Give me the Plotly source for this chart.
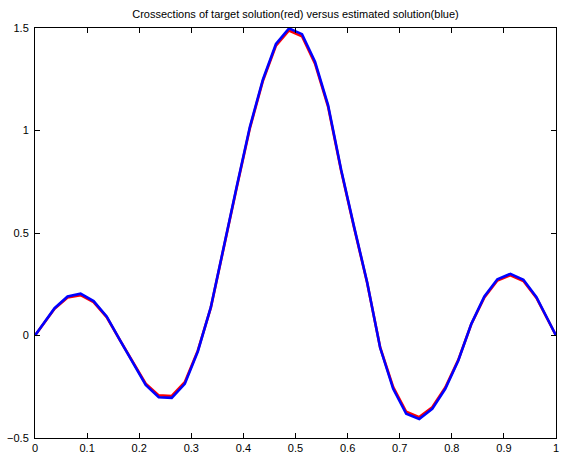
import plotly.graph_objects as go

# x sample positions
x_vals = [0.0, 0.0375, 0.0625, 0.0875, 0.1125, 0.1375, 0.1625, 0.1875, 0.2125, 0.2375,
          0.2625, 0.2875, 0.3125, 0.3375, 0.3625, 0.3875, 0.4125, 0.4375, 0.4625, 0.4875,
          0.5125, 0.5375, 0.5625, 0.5875, 0.6125, 0.6375, 0.6625, 0.6875, 0.7125, 0.7375,
          0.7625, 0.7875, 0.8125, 0.8375, 0.8625, 0.8875, 0.9125, 0.9375, 0.9625, 1.0]

# estimated solution (blue)
estimated = [0.0, 0.133, 0.190, 0.204, 0.168, 0.093, -0.020, -0.130, -0.241, -0.301,
             -0.304, -0.236, -0.078, 0.138, 0.440, 0.730, 1.018, 1.249, 1.422, 1.498,
             1.470, 1.335, 1.124, 0.810, 0.530, 0.260, -0.060, -0.260, -0.382, -0.407,
             -0.358, -0.260, -0.122, 0.057, 0.190, 0.274, 0.301, 0.272, 0.187, 0.0]

# target solution (red)
target = [0.0, 0.130, 0.185, 0.197, 0.163, 0.090, -0.020, -0.127, -0.235, -0.292,
          -0.295, -0.228, -0.074, 0.136, 0.436, 0.726, 1.012, 1.243, 1.414, 1.488,
          1.460, 1.326, 1.117, 0.805, 0.526, 0.257, -0.058, -0.252, -0.372, -0.398,
          -0.350, -0.254, -0.119, 0.056, 0.186, 0.268, 0.294, 0.266, 0.183, 0.0]

title_text = "Crossections of target solution(red) versus estimated solution(blue)"
x_ticks = [0, 0.1, 0.2, 0.3, 0.4, 0.5, 0.6, 0.7, 0.8, 0.9, 1]
x_tick_labels = ["0", "0.1", "0.2", "0.3", "0.4", "0.5", "0.6", "0.7", "0.8", "0.9", "1"]
y_ticks = [-0.5, 0, 0.5, 1, 1.5]
y_tick_labels = ["\u22120.5", "0", "0.5", "1", "1.5"]

fig = go.Figure()
fig.add_trace(go.Scatter(x=x_vals, y=target, mode="lines",
                         line=dict(color="#ff0000", width=2.6), showlegend=False))
fig.add_trace(go.Scatter(x=x_vals, y=estimated, mode="lines",
                         line=dict(color="#0000ff", width=2.6), showlegend=False))

axis_common = dict(showline=True, linecolor="black", linewidth=1, mirror="ticks",
                   ticks="inside", ticklen=5, tickcolor="black", tickwidth=1,
                   showgrid=False, zeroline=False, automargin=False,
                   tickfont=dict(family="Liberation Sans, Arial, sans-serif", size=11, color="black"))

fig.update_layout(
    width=563, height=454,
    margin=dict(l=35, r=7, t=28, b=16, autoexpand=False),
    paper_bgcolor="white", plot_bgcolor="white",
    title=dict(text=title_text, x=(35 + 556) / 2 / 563, xanchor="center",
               y=1 - 14 / 454, yanchor="middle", automargin=False,
               font=dict(family="Liberation Sans, Arial, sans-serif", size=11, color="black")),
    xaxis=dict(range=[0, 1], tickvals=x_ticks, ticktext=x_tick_labels, ticklabelstandoff=0, **axis_common),
    yaxis=dict(range=[-0.5, 1.5], tickvals=y_ticks, ticktext=y_tick_labels, ticklabelstandoff=3, **axis_common),
)

fig.write_html("out.html")
